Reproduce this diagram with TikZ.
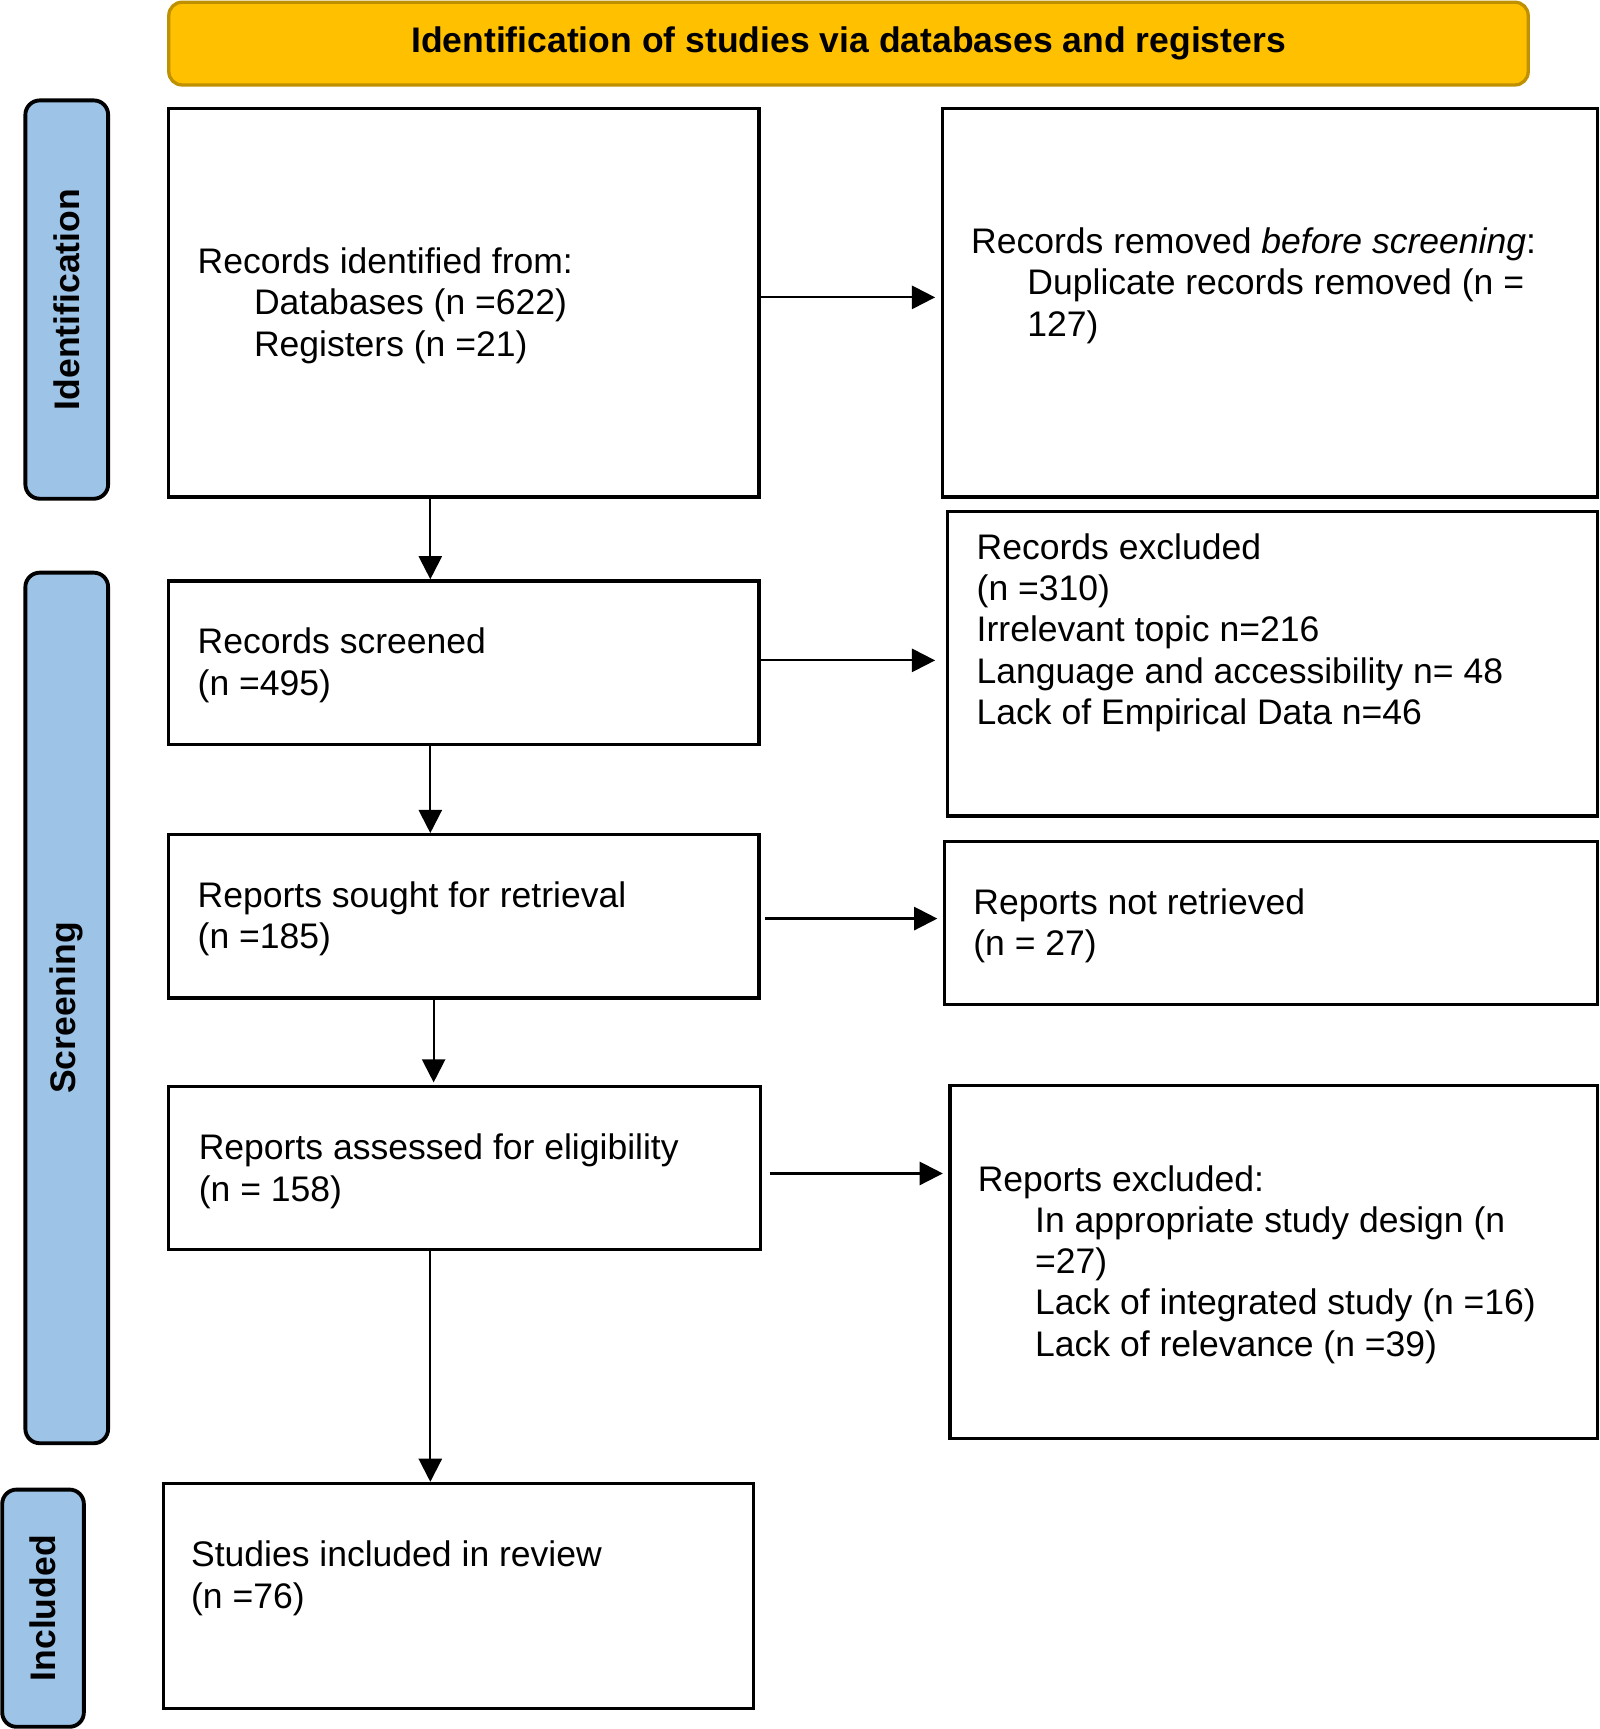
\documentclass[tikz,border=0pt]{standalone}
\usepackage{fontspec}
\setmainfont{Liberation Sans}
\usetikzlibrary{arrows.meta}
\definecolor{hdrfill}{HTML}{FFC000}
\definecolor{hdrline}{HTML}{BF9000}
\definecolor{sidefill}{HTML}{9DC3E6}
\newcommand\bodyfont{\fontsize{32.2pt}{37.4pt}\selectfont}
\tikzset{
  flowbox/.style={draw=black, line width=3pt, fill=white, rectangle, inner sep=0pt, anchor=north west},
  boxtext/.style={anchor=west, inner sep=0pt, align=left, font=\bodyfont},
  sidebox/.style={draw=black, line width=3.5pt, fill=sidefill, rounded corners=13pt, rotate=90,
    inner sep=0pt, font=\bodyfont\bfseries},
  hdrbox/.style={draw=hdrline, line width=3pt, fill=hdrfill, rounded corners=12pt,
    inner sep=0pt, font=\bodyfont\bfseries},
  flowarrow/.style={line width=2pt, -{Triangle[length=21pt,width=21pt]}}
}
\begin{document}
\begin{tikzpicture}[x=1pt,y=-1pt]
\useasboundingbox (0,0) rectangle (1450,1567);

% header
\node[hdrbox, minimum width=1232pt, minimum height=75pt] (hdr) at (769,39.5)
  {Identification of studies via databases and registers};

% side labels
\node[sidebox, minimum width=361pt, minimum height=75pt] (sid) at (60.5,271.5) {Identification};
\node[sidebox, minimum width=789pt, minimum height=75pt] (sscr) at (60.5,913.5) {Screening};
\node[sidebox, minimum width=215pt, minimum height=74pt] (sinc) at (39,1457.5) {Included};

% boxes
\node[flowbox, minimum width=535pt, minimum height=352pt] (b1) at (151.5,97) {};
\node[flowbox, minimum width=594pt, minimum height=352pt] (b2) at (852.5,97) {};
\node[flowbox, minimum width=535pt, minimum height=148pt] (b3) at (151.5,525) {};
\node[flowbox, minimum width=589pt, minimum height=276pt] (b4) at (857.5,462) {};
\node[flowbox, minimum width=535pt, minimum height=148pt] (b5) at (151.5,755) {};
\node[flowbox, minimum width=592pt, minimum height=148pt] (b6) at (854.5,761) {};
\node[flowbox, minimum width=536pt, minimum height=148pt] (b7) at (151.5,983) {};
\node[flowbox, minimum width=587pt, minimum height=320pt] (b8) at (859.5,982) {};
\node[flowbox, minimum width=535pt, minimum height=204pt] (b9) at (146.5,1343) {};

% texts
\node[boxtext] (t1) at (179,277) {Records identified from:\\\hspace*{51pt}Databases (n =622)\\\hspace*{51pt}Registers (n =21)};
\node[boxtext] (t2) at (880,259) {Records removed \textit{before screening}:\\\hspace*{51pt}Duplicate records removed (n =\\\hspace*{51pt}127)};
\node[boxtext] (t3) at (179,603) {Records screened\\(n =495)};
\node[boxtext] (t4) at (885,573.5) {Records excluded\\(n =310)\\Irrelevant topic n=216\\Language and accessibility n= 48\\Lack of Empirical Data n=46};
\node[boxtext] (t5) at (179,833) {Reports sought for retrieval\\(n =185)};
\node[boxtext] (t6) at (882,839) {Reports not retrieved\\(n = 27)};
\node[boxtext] (t7) at (180,1061.5) {Reports assessed for eligibility\\(n = 158)};
\node[boxtext] (t8) at (886,1146) {Reports excluded:\\\hspace*{52pt}In appropriate study design (n\\\hspace*{52pt}=27)\\\hspace*{52pt}Lack of integrated study (n =16)\\\hspace*{52pt}Lack of relevance (n =39)};
\node[boxtext] (t9) at (173,1430.5) {Studies included in review\\(n =76)};

% spine coordinates
\coordinate (spA) at (390,0);
\coordinate (spB) at (393,0);

% vertical arrows
\draw[flowarrow, shorten <=-3pt] (b1.south -| spA) -- (b3.north -| spA);
\draw[flowarrow] (b3.south -| spA) -- (b5.north -| spA);
\draw[flowarrow, shorten <=-3pt, shorten >=2pt] (b5.south -| spB) -- (b7.north -| spB);
\draw[flowarrow] (b7.south -| spA) -- (b9.north -| spA);

% horizontal arrows
\draw[flowarrow, shorten >=5pt] ([yshift=5pt]b1.east) -- ([yshift=5pt]b1.east -| b2.west);
\draw[flowarrow, shorten >=10pt] ([yshift=2pt]b3.east) -- ([yshift=2pt]b3.east -| b4.west);
\draw[flowarrow, shorten <=4pt, shorten >=5pt] ([yshift=-2pt]b5.east) -- ([yshift=-2pt]b5.east -| b6.west);
\draw[flowarrow, shorten <=7pt, shorten >=5pt] ([yshift=-5pt]b7.east) -- ([yshift=-5pt]b7.east -| b8.west);
\end{tikzpicture}
\end{document}
